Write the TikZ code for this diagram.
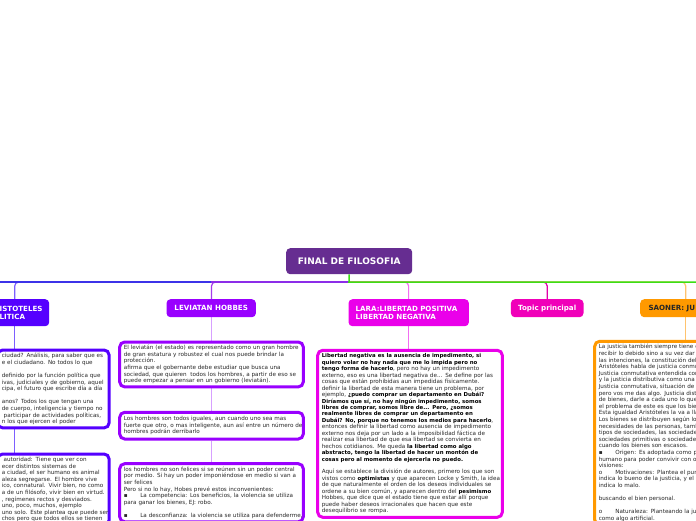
\documentclass[tikz,border=0pt]{standalone}
\usepackage{fontspec}
\setmainfont{DejaVu Sans}
\usetikzlibrary{backgrounds}
\definecolor{rootc}{RGB}{102,45,145}
\definecolor{cA}{RGB}{85,0,255}
\definecolor{cL}{RGB}{153,0,255}
\definecolor{cR}{RGB}{234,0,234}
\definecolor{cT}{RGB}{240,0,185}
\definecolor{cS}{RGB}{255,153,0}
\definecolor{vA}{RGB}{125,95,255}
\definecolor{vL}{RGB}{165,60,235}
\definecolor{vLl}{RGB}{215,160,255}
\definecolor{vR}{RGB}{242,110,242}
\definecolor{vT}{RGB}{225,0,170}
\definecolor{vS}{RGB}{255,195,110}
\definecolor{busblue}{RGB}{60,50,232}
\definecolor{buspurple}{RGB}{140,45,232}
\definecolor{busgreen}{RGB}{60,222,20}
\definecolor{txt}{RGB}{40,40,40}
\newcommand\bt[1]{{\fontsize{5.4}{\baselineskip}\selectfont\bfseries\color{black}#1}}
\newcommand\li[1]{\mbox{#1}}
\newcommand\bul[1]{\makebox[16.5pt][l]{#1}}
\begin{document}
\begin{tikzpicture}[x=1pt,y=-1pt,
  topicbox/.style={rounded corners=4pt, inner sep=0pt, anchor=north west, text=white,
    font=\fontsize{7.1}{8.4}\selectfont\bfseries},
  subbox/.style={draw, line width=3pt, rounded corners=5pt, fill=white, anchor=north west,
    inner xsep=4.1pt, inner ysep=3.1pt, align=left, text=txt,
    font=\fontsize{5.65}{6.6}\selectfont},
  busline/.style={line width=1.5pt},
  vline/.style={line width=1.2pt}]
\useasboundingbox (0,0) rectangle (696,520);

\coordinate (bus) at (349,282);
\coordinate (busL) at (-5,282);
\coordinate (busR) at (701,282);
\coordinate (colA) at (14.7,0);
\coordinate (colL) at (211.5,0);
\coordinate (colR) at (408.6,0);
\coordinate (colS) at (685.7,0);

% main topic
\node[topicbox, fill=rootc, minimum width=126pt, minimum height=26pt,
  font=\fontsize{9}{10}\selectfont\bfseries] (root) at (286,248) {FINAL DE FILOSOFIA};

% branches
\node[topicbox, fill=cA, minimum height=27pt, text width=40pt, inner xsep=9.5pt, align=left]
  (arist) at (-10,299) {ISTOTELES\\LITICA};
\node[topicbox, fill=cL, minimum width=89.4pt, minimum height=18pt] (lev) at (166.3,299) {LEVIATAN HOBBES};
\node[topicbox, fill=cR, minimum height=27pt, text width=106pt, inner xsep=7.2pt, align=left]
  (lara) at (348.3,299) {LARA:LIBERTAD POSITIVA\\LIBERTAD NEGATIVA};
\node[topicbox, fill=cT, minimum width=72.6pt, minimum height=18pt] (topicp) at (510.7,299) {Topic principal};
\node[topicbox, fill=cS, text=black!85, minimum height=18pt, text width=60pt, inner xsep=8.3pt, align=left]
  (saoner) at (640,299) {SAONER: JU};

% Aristoteles column
\node[subbox, draw=cA, text width=103.2pt, minimum height=76pt] (a1) at (-3.8,348.5) {%
\li{ciudad? Análisis, para saber que es}\\
\li{e el ciudadano. No todos lo que}\\[6.6pt]
\li{definido por la función política que}\\
\li{ivas, judiciales y de gobierno, aquel}\\
\li{cipa, el futuro que escribe día a día}\\[6.6pt]
\li{anos? Todos los que tengan una}\\
\li{de cuerpo, inteligencia y tiempo no}\\
\li{ participar de actividades políticas,}\\
\li{n los que ejercen el poder}};
\node[subbox, draw=cA, text width=103.2pt] (a2) at (-3.8,452.5) {%
\li{ autoridad: Tiene que ver con}\\
\li{ecer distintos sistemas de}\\
\li{a ciudad, el ser humano es animal}\\
\li{aleza segregarse. El hombre vive}\\
\li{ico, connatural. Vivir bien, no como}\\
\li{a de un filósofo, vivir bien en virtud.}\\
\li{, regímenes rectos y desviados.}\\
\li{uno, poco, muchos, ejemplo}\\
\li{uno solo. Este plantea que puede ser}\\
\li{chos pero que todos ellos se tienen}};

% Leviatan column
\node[subbox, draw=cL, text width=175.4pt, minimum height=44.7pt] (l1) at (118.2,340.5) {%
\li{El leviatán (el estado) es representado como un gran hombre}\\
\li{de gran estatura y robustez el cual nos puede brindar la}\\
\li{protección.}\\
\li{afirma que el gobernante debe estudiar que busca una}\\
\li{sociedad, que quieren\ \ todos los hombres, a partir de eso se}\\
\li{puede empezar a pensar en un gobierno (leviatán).}};
\node[subbox, draw=cL, text width=175.4pt, minimum height=26.7pt] (l2) at (118.2,410.8) {%
\li{Los hombres son todos iguales, aun cuando uno sea mas}\\
\li{fuerte que otro, o mas inteligente, aun así entre un número de}\\
\li{hombres podrán derribarlo}};
\node[subbox, draw=cL, text width=175.4pt] (l3) at (118.2,462.2) {%
\li{los hombres no son felices si se reúnen sin un poder central}\\
\li{por medio. Si hay un poder imponiéndose en medio si van a}\\
\li{ser felices}\\
\li{Pero si no lo hay, Hobes prevé estos inconvenientes:}\\
\li{\bul{▪}La competencia: Los beneficios, la violencia se utiliza}\\
\li{para ganar los bienes, EJ: robo.}\\[6.6pt]
\li{\bul{▪}La desconfianza: la violencia se utiliza para defenderme,}};

% Lara column
\node[subbox, draw=cR, text width=176.4pt, minimum height=167pt,
  font=\fontsize{5.65}{6.45}\selectfont] (r1) at (316.2,348.8) {%
\li{\bt{Libertad negativa es la ausencia de impedimento, si}}\\
\li{\bt{quiero volar no hay nada que me lo impida pero no}}\\
\li{\bt{tengo forma de hacerlo}, pero no hay un impedimento}\\
\li{externo, eso es una libertad negativa de... Se define por las}\\
\li{cosas que están prohibidas aun impedidas físicamente.}\\
\li{definir la libertad de esta manera tiene un problema, por}\\
\li{ejemplo, \bt{¿puedo comprar un departamento en Dubái?}}\\
\li{\bt{Diríamos que sí, no hay ningún impedimento, somos}}\\
\li{\bt{libres de comprar, somos libre de... Pero, ¿somos}}\\
\li{\bt{realmente libres de comprar un departamento en}}\\
\li{\bt{Dubái? No, porque no tenemos los medios para hacerlo},}\\
\li{entonces definir la libertad como ausencia de impedimento}\\
\li{externo nos deja por un lado a la imposibilidad fáctica de}\\
\li{realizar esa libertad de que esa libertad se convierta en}\\
\li{hechos cotidianos. Me queda \bt{la libertad como algo}}\\
\li{\bt{abstracto, tengo la libertad de hacer un montón de}}\\
\li{\bt{cosas pero al momento de ejercerla no puedo.}}\\[6.45pt]
\li{Aquí se establece la división de autores, primero los que son}\\
\li{vistos como \bt{optimistas} y que aparecen Locke y Smith, la idea}\\
\li{de que naturalmente el orden de los deseos individuales se}\\
\li{ordene a su bien común, y aparecen dentro del \bt{pesimismo}}\\
\li{Hobbes, que dice que el estado tiene que estar allí porque}\\
\li{puede haber deseos irracionales que hacen que este}\\
\li{desequilibrio se rompa.}};

% Saoner column
\node[subbox, draw=cS, text width=118.6pt] (s1) at (593.2,339.8) {%
\li{La justicia también siempre tiene q}\\
\li{recibir lo debido sino a su vez dar lo}\\
\li{las intenciones, la constitución del c}\\
\li{Aristóteles habla de justicia conmut}\\
\li{Justicia conmutativa entendida com}\\
\li{y la justicia distributiva como una ig}\\
\li{Justicia conmutativa, situación de in}\\
\li{pero vos me das algo. Justicia distr}\\
\li{de bienes, darle a cada uno lo que}\\
\li{el problema de este es que los bien}\\
\li{Esta igualdad Aristóteles la va a llar}\\
\li{Los bienes se distribuyen según los}\\
\li{necesidades de las personas, tambi}\\
\li{tipos de sociedades, las sociedades}\\
\li{sociedades primitivas o sociedades}\\
\li{cuando los bienes son escasos.}\\
\li{\bul{▪}Origen: Es adoptada como pa}\\
\li{humano para poder convivir con otr}\\
\li{visiones:}\\
\li{\bul{o}Motivaciones: Plantea el punto}\\
\li{indica lo bueno de la justicia, y el p}\\
\li{indica lo malo.}\\[6.6pt]
\li{buscando el bien personal.}\\[6.6pt]
\li{\bul{o}Naturaleza: Planteando la just}\\
\li{como algo artificial.}};

\begin{scope}[on background layer]
  \fill[white] (0,0) rectangle (696,520);
  \draw[vline, vA, rounded corners=4pt] (arist.north -| colA) |- (bus);
  \draw[vline, vL, rounded corners=4pt] (lev.north -| colL) |- (bus);
  \draw[vline, vR, rounded corners=4pt] (lara.north -| colR) |- (bus);
  \draw[vline, vT, rounded corners=4pt] (topicp.north) |- (bus);
  \draw[vline, vS, rounded corners=4pt] (saoner.north -| colS) |- (bus);
  \draw[busline, busblue] (busL) -- (lev.north |- bus);
  \draw[busline, buspurple] (lev.north |- bus) -- (bus);
  \draw[busline, busgreen] (root.south) -- (bus) -- (busR);
  \draw[vline, vA] (arist.south -| colA) -- (a1.north -| colA);
  \draw[vline, vA] (a1.south -| colA) -- (a2.north -| colA);
  \draw[vline, vLl] (lev.south -| colL) -- (l1.north -| colL);
  \draw[vline, vLl] (l1.south -| colL) -- (l2.north -| colL);
  \draw[vline, vLl] (l2.south -| colL) -- (l3.north -| colL);
  \draw[vline, vR] (lara.south -| colR) -- (r1.north -| colR);
  \draw[vline, vS] (saoner.south -| colS) -- (s1.north -| colS);
\end{scope}
\end{tikzpicture}
\end{document}
